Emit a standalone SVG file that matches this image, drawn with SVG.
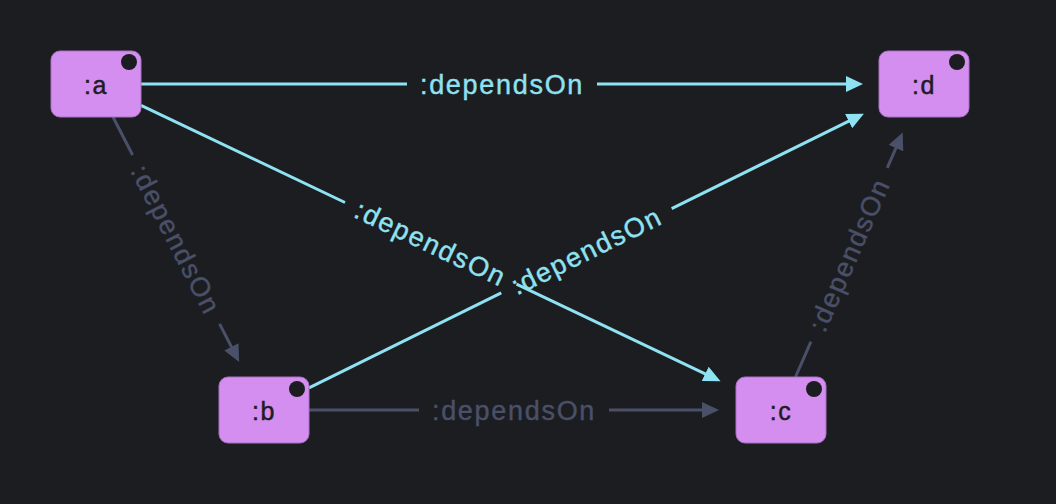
<svg xmlns="http://www.w3.org/2000/svg" width="1056" height="504" viewBox="0 0 1056 504">
<defs>
<style>
.node rect{fill:#d48ef0;stroke:#a970c4;stroke-width:1}
.node circle{fill:#1c1d21}
.node text{font-family:"Liberation Sans",Arial,sans-serif;font-size:25px;fill:#1c1d21;stroke:#1c1d21;stroke-width:0.5;text-anchor:middle;letter-spacing:1.5px}
.hi{stroke:#8fe2f2;stroke-width:3;fill:none}
.lo{stroke:#4a5068;stroke-width:3;fill:none}
.lbl{font-family:"Liberation Sans",Arial,sans-serif;font-size:27px;text-anchor:middle;letter-spacing:1.7px;stroke-width:0.4}
.lhi{fill:#8fe2f2;stroke:#8fe2f2}
.llo{fill:#4a5068;stroke:#4a5068}
</style>
<marker id="ahi" markerUnits="userSpaceOnUse" markerWidth="18" markerHeight="18" refX="7" refY="8" orient="auto" viewBox="0 0 18 16">
<path d="M0,0 L17,8 L0,16 z" fill="#8fe2f2"/>
</marker>
<marker id="alo" markerUnits="userSpaceOnUse" markerWidth="18" markerHeight="18" refX="7" refY="8" orient="auto" viewBox="0 0 18 16">
<path d="M0,0 L17,8 L0,16 z" fill="#4a5068"/>
</marker>
</defs>
<rect width="1056" height="504" fill="#1c1d21"/>
<g id="connectors">
<g id="e-a-d">
<line class="hi" x1="141" y1="84" x2="407" y2="84"/>
<line class="hi" x1="597" y1="84" x2="853" y2="84" marker-end="url(#ahi)"/>
<text class="lbl lhi" transform="translate(502,84)" y="9.5">:dependsOn</text>
</g>
<g id="e-a-c">
<line class="hi" x1="141" y1="105.4" x2="345" y2="202.5"/>
<line class="hi" x1="516.5" y1="284.1" x2="711.5" y2="376.9" marker-end="url(#ahi)"/>
<text class="lbl lhi" transform="translate(430.75,243.3) rotate(25.45)" y="9.5">:dependsOn</text>
</g>
<g id="e-b-d">
<line class="hi" x1="309" y1="387.8" x2="501.25" y2="292.85"/>
<line class="hi" x1="671.65" y1="208.65" x2="854.9" y2="118.1" marker-end="url(#ahi)"/>
<text class="lbl lhi" transform="translate(586.45,250.75) rotate(-26.29)" y="9.5">:dependsOn</text>
</g>
<g id="e-a-b">
<line class="lo" x1="113" y1="117" x2="132.6" y2="155"/>
<line class="lo" x1="219.6" y1="323.9" x2="234.6" y2="353" marker-end="url(#alo)"/>
<text class="lbl llo" transform="translate(176.1,239.45) rotate(62.74)" y="9.5">:dependsOn</text>
</g>
<g id="e-b-c">
<line class="lo" x1="309" y1="410" x2="419" y2="410"/>
<line class="lo" x1="609" y1="410" x2="709" y2="410" marker-end="url(#alo)"/>
<text class="lbl llo" transform="translate(514,410)" y="9.5">:dependsOn</text>
</g>
<g id="e-c-d">
<line class="lo" x1="795.5" y1="377" x2="810.95" y2="341.7"/>
<line class="lo" x1="887.3" y1="167.8" x2="898.7" y2="141.7" marker-end="url(#alo)"/>
<text class="lbl llo" transform="translate(849.1,254.75) rotate(-66.31)" y="9.5">:dependsOn</text>
</g>
</g>
<g id="node-a" class="node">
<rect x="51" y="51" width="90" height="66" rx="9"/>
<circle cx="129" cy="62" r="8"/>
<text x="96" y="94">:a</text>
</g>
<g id="node-d" class="node">
<rect x="879" y="51" width="90" height="66" rx="9"/>
<circle cx="957" cy="62" r="8"/>
<text x="924" y="94">:d</text>
</g>
<g id="node-b" class="node">
<rect x="219" y="377" width="90" height="66" rx="9"/>
<circle cx="297" cy="389" r="8"/>
<text x="264" y="420">:b</text>
</g>
<g id="node-c" class="node">
<rect x="736" y="377" width="90" height="66" rx="9"/>
<circle cx="814" cy="389" r="8"/>
<text x="781" y="420">:c</text>
</g>
</svg>
